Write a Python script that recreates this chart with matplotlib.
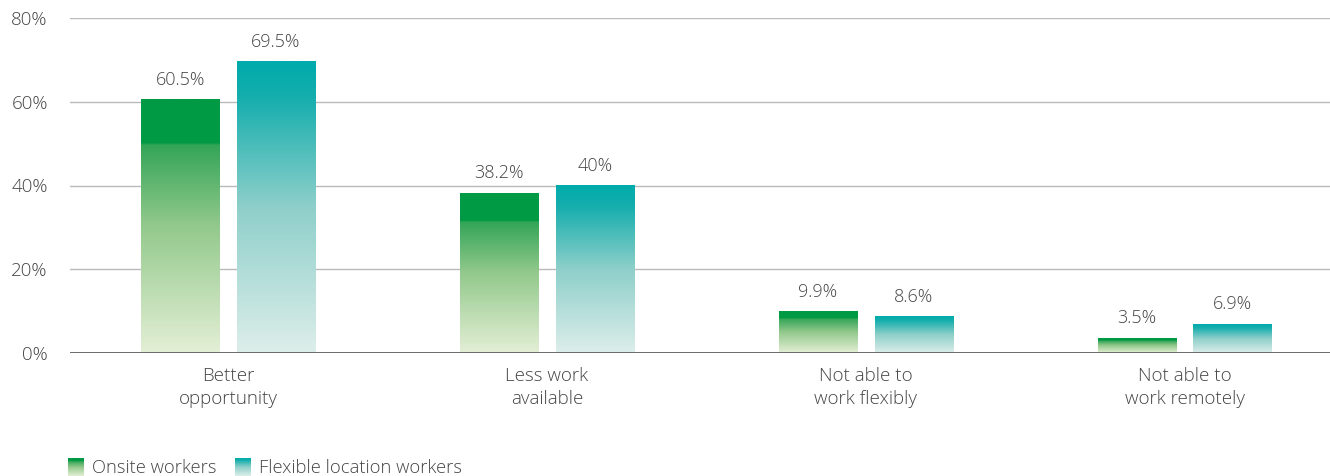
import numpy as np
import matplotlib.pyplot as plt
from matplotlib.colors import LinearSegmentedColormap

plt.rcParams['font.family'] = ['Open Sans', 'DejaVu Sans']
plt.rcParams['font.weight'] = 'light'

categories = ['Better\nopportunity', 'Less work\navailable', 'Not able to\nwork flexibly', 'Not able to\nwork remotely']
onsite = [60.5, 38.2, 9.9, 3.5]
flexible = [69.5, 40, 8.6, 6.9]
series_names = ['Onsite workers', 'Flexible location workers']

green_cmap = LinearSegmentedColormap.from_list('g', [(0, '#e4efd6'), (0.5, '#93c98c'), (0.82, '#33a557'), (0.83, '#009a44'), (1, '#009a44')])
teal_cmap = LinearSegmentedColormap.from_list('t', [(0, '#ddeeea'), (0.5, '#8ecfca'), (0.88, '#14aead'), (1, '#00abab')])
grad = np.linspace(0, 1, 256).reshape(-1, 1)

fig = plt.figure(figsize=(13.3, 4.76), dpi=100)
ax = fig.add_axes([70 / 1330, 1 - 353 / 476, 1260 / 1330, 335 / 476])

x = np.arange(len(categories))
w = 0.245
off = 0.15
text_col = '#444444'

for vals, cmap, dx in [(onsite, green_cmap, -off), (flexible, teal_cmap, off)]:
    bars = ax.bar(x + dx, vals, width=w, color='none', zorder=3)
    for b, v in zip(bars, vals):
        x0 = b.get_x()
        ax.imshow(grad, cmap=cmap, origin='lower', aspect='auto',
                  extent=[x0, x0 + w, 0, v], zorder=3)
        lbl = '%g%%' % v
        ax.text(x0 + w / 2, v + 2.6, lbl, ha='center', va='bottom',
                fontsize=13, color=text_col)

ax.set_xlim(-0.4956, 3.456)
ax.set_ylim(0, 80)
ax.set_yticks([0, 20, 40, 60, 80])
ax.set_yticklabels(['0%', '20%', '40%', '60%', '80%'])
ax.set_xticks(x)
ax.set_xticklabels(categories)
ax.grid(axis='y', color='#bbbbbb', linewidth=1, zorder=0)
ax.axhline(0, color='#555555', linewidth=1.2, zorder=4)
for s in ax.spines.values():
    s.set_visible(False)
ax.tick_params(axis='y', length=0, pad=16, labelsize=13.5, labelcolor=text_col)
ax.tick_params(axis='x', length=0, pad=10, labelsize=13.5, labelcolor=text_col)
for t in ax.get_xticklabels():
    t.set_linespacing(1.35)

# legend with gradient swatches
for name, cmap, px, tx in [(series_names[0], green_cmap, 68, 92), (series_names[1], teal_cmap, 235, 259)]:
    lax = fig.add_axes([px / 1330, 0, 16 / 1330, 18 / 476])
    lax.imshow(grad, cmap=cmap, origin='lower', aspect='auto')
    lax.axis('off')
    fig.text(tx / 1330, 8 / 476, name, fontsize=13.2, color=text_col, va='center')

fig.savefig('out.png', dpi=100)
